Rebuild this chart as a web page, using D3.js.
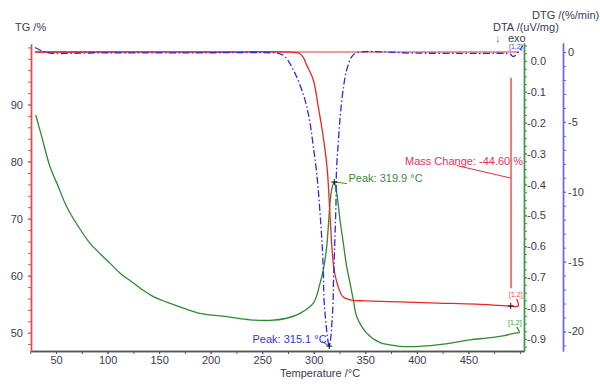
<!DOCTYPE html>
<html>
<head>
<meta charset="utf-8">
<script src="https://cdn.jsdelivr.net/npm/d3@7"></script>
<style>
  body { margin: 0; background: white; }
  svg text { font-family: Arial, "Liberation Sans", sans-serif; }
</style>
</head>
<body>
<div id="vis1"></div>
<script>
// values: [temperature °C, value]
let tempTicks = [50, 100, 150, 200, 250, 300, 350, 400, 450];
let tgTicks = [50, 60, 70, 80, 90];
let dtaTicks = [0, -0.1, -0.2, -0.3, -0.4, -0.5, -0.6, -0.7, -0.8, -0.9];
let dtgTicks = [0, -5, -10, -15, -20];

let tgCurve = [
  [29.6, 99.2], [100, 99.2], [200, 99.2], [280, 99.15], [286.7, 98.9], [290, 98.2],
  [293.2, 96.9], [299.6, 94.3], [304.4, 89.6], [307.7, 86.1], [311.0, 82.0], [313.3, 78.2],
  [315.8, 70.6], [317.7, 64.85], [319.6, 61.3], [323.5, 58.2], [328.4, 56.3], [336.8, 55.7],
  [349.7, 55.6], [383.7, 55.4], [420, 55.2], [458.1, 55.0], [488.7, 54.7], [498.4, 54.7],
  [496.9, 55.9]
];
let tgTopLine = [[29.6, 99.2], [499, 99.2]];

let dtaCurve = [
  [30.3, -0.175], [36.1, -0.245], [44.1, -0.342], [52.2, -0.407], [60.3, -0.472], [71.6, -0.536],
  [82.9, -0.590], [93, -0.625], [103, -0.657], [113, -0.690], [123, -0.714], [133, -0.739],
  [144.4, -0.763], [157.4, -0.781], [173.5, -0.800], [189.7, -0.817], [215.6, -0.828], [238.2, -0.838],
  [257.6, -0.840], [273.8, -0.833], [286.7, -0.817], [299.6, -0.784], [306.1, -0.720], [309.3, -0.676],
  [312.6, -0.601], [315.8, -0.460], [317.4, -0.417], [319.9, -0.392], [322.3, -0.428], [325.5, -0.515],
  [328.7, -0.590], [332.0, -0.666], [335.2, -0.719], [338.4, -0.773], [341.7, -0.827], [351.4, -0.881],
  [364.3, -0.912], [374.0, -0.919], [383.7, -0.924], [403.1, -0.924], [425.7, -0.917], [451.6, -0.903],
  [467.8, -0.897], [483.9, -0.890], [495.2, -0.881], [499.4, -0.879], [496.9, -0.862]
];

let dtgCurve = [
  [29.6, 0.33], [37.6, 0.04], [44.1, -0.07], [100, -0.05], [180, -0.06], [257.6, -0.05],
  [267.3, -0.12], [272.1, -0.32], [281.8, -1.51], [291.5, -3.42], [296.4, -5.09], [299.6, -6.77],
  [302.9, -8.67], [307.7, -13.22], [309.3, -15.61], [310.2, -17.99], [315.1, -21.05], [318.4, -18.47],
  [319.2, -16.32], [320.6, -13.24], [321.6, -10.80], [322.1, -8.44], [324.0, -6.29], [326.0, -4.35],
  [328.9, -2.49], [332.0, -1.27], [336.8, -0.34], [341.7, -0.05], [400, -0.08], [460, -0.1],
  [490.4, -0.15], [493.6, -0.32], [500.1, 0.16], [502.7, 0.47]
];

let dtaPeak = [319.9, -0.392];
let dtgPeak = [315.1, -21.05];
let tgEnd = [491.1, 54.7];
let massChange = -44.60;
let massStep = [491.4, 94.7, 57.8];     // temperature, top and bottom of the step bar
let massLeader = [[438.7, 79.3], [491.4, 77.1]];

let width = 600, height = 385;
let plot = { left: 31, right: 524, top: 44, bottom: 351 };

let svg = d3.select('#vis1')
  .append('svg')
  .attr("width", width)
  .attr("height", height)
  .style('background-color', 'white');

let x = d3.scaleLinear().domain([25.7, 504]).range([plot.left, plot.right]);
let yTG = d3.scaleLinear().domain([46.8, 100.6]).range([plot.bottom, plot.top]);
let yDTA = d3.scaleLinear().domain([-0.939, 0.058]).range([plot.bottom, 43]);
let yDTG = d3.scaleLinear().domain([-21.4, 0.65]).range([plot.bottom, 43]);

let labelColor = "#3c3a50";

function styleAxis(g, color) {
  g.select(".domain").attr("stroke", color).attr("stroke-width", 1.4);
  g.selectAll(".tick line").attr("stroke", color);
  g.selectAll(".tick text").attr("fill", labelColor).style("font-size", "11px");
}

// bottom temperature axis
let gx = svg.append("g").attr("transform", `translate(0, ${plot.bottom})`);
gx.append("g").call(d3.axisBottom(x).tickValues(d3.range(25, 501, 25)).tickSize(3).tickSizeOuter(0).tickFormat(""))
  .call(g => styleAxis(g, "#555"));
gx.append("g").call(d3.axisBottom(x).tickValues(tempTicks).tickSize(3).tickSizeOuter(0).tickPadding(2))
  .call(g => styleAxis(g, "#555"));

// TG axis (left)
let gTG = svg.append("g").attr("transform", `translate(${plot.left}, 0)`);
gTG.append("g").call(d3.axisLeft(yTG).tickValues(d3.range(48, 101, 2)).tickSize(3).tickSizeOuter(0).tickFormat(""))
  .call(g => styleAxis(g, "#e84848"));
gTG.append("g").call(d3.axisLeft(yTG).tickValues(tgTicks).tickSize(3).tickSizeOuter(0).tickPadding(5))
  .call(g => styleAxis(g, "#e84848"));

// DTA axis (right, green)
let gDTA = svg.append("g").attr("transform", `translate(${plot.right}, 0)`);
gDTA.append("g").call(d3.axisRight(yDTA).tickValues(d3.range(-37, 3).map(i => i * 0.025)).tickSize(3).tickSizeOuter(0).tickFormat(""))
  .call(g => styleAxis(g, "#3c9a3c"));
gDTA.append("g").call(d3.axisRight(yDTA).tickValues(dtaTicks).tickSize(3).tickSizeOuter(0).tickFormat(d => d.toFixed(1)))
  .call(g => styleAxis(g, "#3c9a3c"))
  .call(g => g.selectAll(".tick text").attr("text-anchor", "end").attr("x", 22));

// DTG axis (far right, blue)
let gDTG = svg.append("g").attr("transform", `translate(563, 0)`);
gDTG.append("g").call(d3.axisRight(yDTG).tickValues(d3.range(-21, 1, 1)).tickSize(3).tickSizeOuter(0).tickFormat(""))
  .call(g => styleAxis(g, "#6a6ad6"));
gDTG.append("g").call(d3.axisRight(yDTG).tickValues(dtgTicks).tickSize(3).tickSizeOuter(0).tickFormat(d => String(d)))
  .call(g => styleAxis(g, "#6a6ad6"))
  .call(g => g.selectAll(".tick text").attr("x", 5));

// axis titles
let titles = svg.append("g").attr("fill", labelColor).style("font-size", "11px");
titles.append("text").attr("x", 15).attr("y", 31).text("TG /%");
titles.append("text").attr("x", 532).attr("y", 19).text("DTG /(%/min)");
titles.append("text").attr("x", 493).attr("y", 31).text("DTA /(uV/mg)");
titles.append("text").attr("x", 495).attr("y", 42).attr("fill", "#777").text("↓");
titles.append("text").attr("x", 508).attr("y", 42).text("exo");
titles.append("text").attr("x", 320).attr("y", 377).attr("text-anchor", "middle").text("Temperature /°C");

// curves
let line = (yScale) => d3.line()
  .x(d => x(d[0]))
  .y(d => yScale(d[1]))
  .curve(d3.curveCatmullRom.alpha(0.5));

svg.append("path").datum(dtaCurve)
  .attr("d", line(yDTA)).attr("fill", "none").attr("stroke", "#2e8b2e").attr("stroke-width", 1.3);

svg.append("path").datum(tgTopLine)
  .attr("d", line(yTG)).attr("fill", "none").attr("stroke", "#ee3030").attr("stroke-width", 1.2);
svg.append("path").datum(tgCurve)
  .attr("d", line(yTG)).attr("fill", "none").attr("stroke", "#ee2424").attr("stroke-width", 1.3);

svg.append("path").datum(dtgCurve)
  .attr("d", line(yDTG)).attr("fill", "none").attr("stroke", "#2a2ae8").attr("stroke-width", 1.3)
  .attr("stroke-dasharray", "7,2.5,1.5,2.5");

// mass change annotation
svg.append("line")
  .attr("x1", x(massStep[0])).attr("x2", x(massStep[0]))
  .attr("y1", yTG(massStep[1])).attr("y2", yTG(massStep[2]))
  .attr("stroke", "#ee2424").attr("stroke-width", 1.2);
svg.append("line")
  .attr("x1", x(massLeader[0][0])).attr("y1", yTG(massLeader[0][1]))
  .attr("x2", x(massLeader[1][0])).attr("y2", yTG(massLeader[1][1]))
  .attr("stroke", "#e83030").attr("stroke-width", 1);
svg.append("text").attr("x", 405).attr("y", 164.5)
  .attr("fill", "#e8305a").style("font-size", "11px")
  .text("Mass Change: " + massChange.toFixed(2) + " %");

// peak markers
function cross(cx, cy) {
  svg.append("path")
    .attr("d", `M${cx - 3},${cy}H${cx + 3}M${cx},${cy - 3}V${cy + 3}`)
    .attr("stroke", "#111").attr("stroke-width", 1);
}
let pDTA = [x(dtaPeak[0]), yDTA(dtaPeak[1])];
svg.append("line").attr("x1", pDTA[0]).attr("y1", pDTA[1]).attr("x2", 347).attr("y2", pDTA[1] + 1.5)
  .attr("stroke", "#3c8a3c").attr("stroke-width", 1);
cross(pDTA[0], pDTA[1]);
svg.append("text").attr("x", 348.5).attr("y", 182).attr("fill", "#3c8a3c").style("font-size", "11px")
  .text("Peak: " + dtaPeak[0].toFixed(1) + " °C");

let pDTG = [x(dtgPeak[0]), yDTG(dtgPeak[1])];
svg.append("line").attr("x1", 322).attr("y1", 341.5).attr("x2", pDTG[0]).attr("y2", pDTG[1])
  .attr("stroke", "#3434d8").attr("stroke-width", 1);
cross(pDTG[0], pDTG[1]);
svg.append("text").attr("x", 252.5).attr("y", 343).attr("fill", "#3434d8").style("font-size", "11px")
  .text("Peak: " + dtgPeak[0].toFixed(1) + " °C");

cross(x(tgEnd[0]), yTG(tgEnd[1]));

// segment tags
let tags = svg.append("g").style("font-size", "7px");
tags.append("text").attr("x", 509).attr("y", 297).attr("fill", "#e84848").text("[1,2]");
tags.append("text").attr("x", 508).attr("y", 325).attr("fill", "#3c9a3c").text("[1,2]");
tags.append("text").attr("x", 509).attr("y", 49).attr("fill", "#5050e0").text("[1,2]");
</script>
</body>
</html>
